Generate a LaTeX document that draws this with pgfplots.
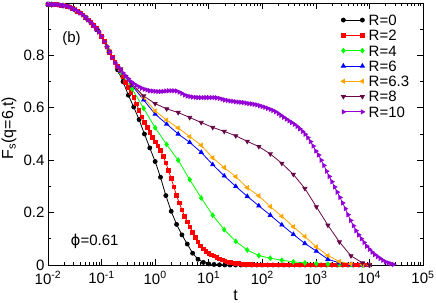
\documentclass[border=0pt]{standalone}
\usepackage{fontspec}
\setmainfont{Liberation Sans}
\newfontfamily\djv{DejaVu Sans}
\usepackage{pgfplots}
\usepackage{pgfplotstable}
\pgfplotsset{compat=1.18}
\definecolor{gmaroon}{RGB}{103,7,72}
\definecolor{gviolet}{RGB}{148,0,211}
\definecolor{gorange}{RGB}{255,165,0}
\definecolor{ggreen}{RGB}{0,255,0}
\definecolor{gred}{RGB}{255,0,0}
\definecolor{gblue}{RGB}{0,0,255}

\pgfplotstableread{
t F
1e-2 0.995
1.259e-2 0.994
1.585e-2 0.993
1.995e-2 0.990
2.512e-2 0.985
3.162e-2 0.975
3.981e-2 0.962
5.012e-2 0.945
6.310e-2 0.925
7.943e-2 0.903
1e-1 0.873
1.259e-1 0.833
1.585e-1 0.792
1.995e-1 0.745
2.512e-1 0.700
3.162e-1 0.648
3.981e-1 0.603
5.012e-1 0.555
6.310e-1 0.500
7.943e-1 0.447
1 0.395
1.259 0.335
1.585 0.265
1.995 0.205
2.512 0.155
3.162 0.115
3.981 0.080
5.012 0.045
6.310 0.022
7.943 0.010
10 0.004
12.59 0.002
15.85 0.001
19.95 0
25.12 0
31.62 0
39.81 0
50.12 0
63.10 0
79.43 0
100 0
125.9 0
158.5 0
199.5 0
251.2 0
316.2 0
398.1 0
501.2 0
631.0 0
794.3 0
1000 0
1259 0
1585 0
1995 0
2512 0
3162 0
3981 0
5012 0
6310 0
7943 0
10000 0
}\Rzero

\pgfplotstableread{
t F
1.000e-2 0.995
1.122e-2 0.995
1.259e-2 0.994
1.413e-2 0.994
1.585e-2 0.993
1.778e-2 0.991
1.995e-2 0.990
2.239e-2 0.988
2.512e-2 0.985
2.818e-2 0.980
3.162e-2 0.975
3.548e-2 0.969
3.981e-2 0.962
4.467e-2 0.954
5.012e-2 0.945
5.623e-2 0.935
6.310e-2 0.925
7.079e-2 0.914
7.943e-2 0.903
8.913e-2 0.889
1.000e-1 0.873
1.122e-1 0.853
1.259e-1 0.833
1.413e-1 0.812
1.585e-1 0.792
1.778e-1 0.775
1.995e-1 0.757
2.239e-1 0.738
2.512e-1 0.718
2.818e-1 0.698
3.162e-1 0.678
3.548e-1 0.658
3.981e-1 0.640
4.467e-1 0.615
5.012e-1 0.590
5.623e-1 0.566
6.310e-1 0.545
7.079e-1 0.525
7.943e-1 0.505
8.913e-1 0.486
1 0.470
1.122 0.455
1.259 0.438
1.413 0.415
1.585 0.390
1.778 0.360
1.995 0.330
2.239 0.298
2.512 0.265
2.818 0.237
3.162 0.210
3.548 0.186
3.981 0.165
4.467 0.145
5.012 0.125
5.623 0.105
6.310 0.088
7.079 0.073
7.943 0.062
8.913 0.052
10 0.045
11.22 0.039
12.59 0.034
14.13 0.029
15.85 0.024
17.78 0.019
19.95 0.015
22.39 0.012
25.12 0.010
28.18 0.008
31.62 0.006
35.48 0.005
39.81 0.004
44.67 0.003
50.12 0.003
56.23 0.002
63.10 0.002
70.79 0.001
79.43 0.001
89.13 0.001
100 0
112.2 0
125.9 0
141.3 0
158.5 0
177.8 0
199.5 0
223.9 0
251.2 0
281.8 0
316.2 0
354.8 0
398.1 0
446.7 0
501.2 0
562.3 0
631.0 0
707.9 0
794.3 0
891.3 0
1000 0
1122 0
1259 0
1413 0
1585 0
1778 0
1995 0
2239 0
2512 0
2818 0
3162 0
3548 0
3981 0
4467 0
5012 0
5623 0
6310 0
7079 0
7943 0
8913 0
10000 0
}\Rtwo

\pgfplotstableread{
t F
0.01 0.995
0.011614 0.994
0.019055 0.990
0.031261 0.975
0.051286 0.943
0.08414 0.896
0.13804 0.816
0.22646 0.735
0.37154 0.672
0.60954 0.598
1 0.524
1.6406 0.460
2.6915 0.400
4.4157 0.326
7.2444 0.256
11.885 0.190
19.498 0.135
31.989 0.090
52.481 0.057
86.099 0.036
141.25 0.026
231.74 0.018
380.19 0.012
623.73 0.008
1023.3 0.005
1678.8 0.003
2754.2 0.002
4518.6 0.001
7413.1 0
10000 0
}\Rfour

\pgfplotstableread{
t F
0.01 0.995
0.011614 0.994
0.019055 0.990
0.031261 0.975
0.051286 0.943
0.08414 0.896
0.13804 0.816
0.22646 0.740
0.37154 0.685
0.60954 0.630
1 0.576
1.6406 0.538
2.6915 0.500
4.4157 0.468
7.2444 0.430
11.885 0.383
19.498 0.340
31.989 0.300
52.481 0.262
86.099 0.226
141.25 0.190
231.74 0.153
380.19 0.117
623.73 0.082
1023.3 0.053
1678.8 0.022
2754.2 0.008
4518.6 0.002
7413.1 0
10000 0
}\Rsix

\pgfplotstableread{
t F
0.01 0.995
0.011614 0.994
0.019055 0.990
0.031261 0.975
0.051286 0.943
0.08414 0.896
0.13804 0.816
0.22646 0.742
0.37154 0.690
0.60954 0.640
1 0.588
1.6406 0.553
2.6915 0.523
4.4157 0.490
7.2444 0.457
11.885 0.409
19.498 0.372
31.989 0.337
52.481 0.295
86.099 0.264
141.25 0.223
231.74 0.186
380.19 0.146
623.73 0.109
1023.3 0.069
1678.8 0.036
2754.2 0.013
4518.6 0.004
7413.1 0.001
10000 0
}\Rsixthree

\pgfplotstableread{
t F
0.01 0.995
0.011614 0.994
0.019055 0.990
0.031261 0.975
0.051286 0.943
0.08414 0.896
0.13804 0.816
0.22646 0.748
0.37154 0.690
0.60954 0.645
1 0.616
1.6406 0.596
2.6915 0.582
4.4157 0.563
7.2444 0.544
11.885 0.525
19.498 0.510
31.989 0.493
52.481 0.472
86.099 0.452
141.25 0.424
231.74 0.388
380.19 0.346
623.73 0.292
1023.3 0.222
1678.8 0.152
2754.2 0.088
4518.6 0.035
7413.1 0.008
10000 0
}\Reight

\pgfplotstableread{
t F
1.000e-2 0.995
1.122e-2 0.995
1.259e-2 0.994
1.413e-2 0.994
1.585e-2 0.993
1.778e-2 0.991
1.995e-2 0.990
2.239e-2 0.988
2.512e-2 0.985
2.818e-2 0.980
3.162e-2 0.975
3.548e-2 0.969
3.981e-2 0.962
4.467e-2 0.954
5.012e-2 0.945
5.623e-2 0.935
6.310e-2 0.925
7.079e-2 0.914
7.943e-2 0.903
8.913e-2 0.889
1.000e-1 0.873
1.122e-1 0.853
1.259e-1 0.833
1.413e-1 0.812
1.585e-1 0.792
1.778e-1 0.772
1.995e-1 0.757
2.239e-1 0.745
2.512e-1 0.733
2.818e-1 0.722
3.162e-1 0.711
3.548e-1 0.700
3.981e-1 0.692
4.467e-1 0.685
5.012e-1 0.680
5.623e-1 0.675
6.310e-1 0.671
7.079e-1 0.668
7.943e-1 0.665
8.913e-1 0.664
1 0.663
1.122 0.662
1.259 0.662
1.413 0.663
1.585 0.664
1.778 0.665
1.995 0.665
2.239 0.665
2.512 0.664
2.818 0.660
3.162 0.655
3.548 0.649
3.981 0.645
4.467 0.643
5.012 0.641
5.623 0.640
6.310 0.639
7.079 0.639
7.943 0.639
8.913 0.639
10 0.639
11.22 0.639
12.59 0.639
14.13 0.638
15.85 0.636
17.78 0.633
19.95 0.630
22.39 0.628
25.12 0.626
28.18 0.625
31.62 0.623
35.48 0.622
39.81 0.621
44.67 0.620
50.12 0.618
56.23 0.616
63.10 0.615
70.79 0.613
79.43 0.611
89.13 0.608
100 0.605
112.2 0.602
125.9 0.598
141.3 0.594
158.5 0.590
177.8 0.585
199.5 0.578
223.9 0.571
251.2 0.564
281.8 0.557
316.2 0.550
354.8 0.544
398.1 0.537
446.7 0.529
501.2 0.520
562.3 0.510
631.0 0.499
707.9 0.486
794.3 0.471
891.3 0.454
1000 0.435
1122 0.420
1259 0.400
1413 0.380
1585 0.358
1778 0.338
1995 0.318
2239 0.298
2512 0.278
2818 0.258
3162 0.237
3548 0.215
3981 0.192
4467 0.170
5012 0.150
5623 0.131
6310 0.115
7079 0.100
7943 0.086
8913 0.072
10000 0.060
11220 0.049
12590 0.040
14130 0.032
15850 0.025
17780 0.018
19950 0.012
22390 0.008
25120 0.005
28180 0.002
}\Rten

\begin{document}
\begin{tikzpicture}
\useasboundingbox (-48bp,-38bp) rectangle (388bp,265bp);
\begin{axis}[
  at={(0,0)}, anchor=south west,
  scale only axis, width=375bp, height=262bp,
  xmode=log, log basis x=10,
  xmin=1e-2, xmax=1e5, ymin=0, ymax=1,
  axis line style={line width=0.8bp},
  xtick={1e-2,1e-1,1,10,100,1000,10000,100000},
  xticklabels={10\textsuperscript{-2},10\textsuperscript{-1},10\textsuperscript{0},10\textsuperscript{1},10\textsuperscript{2},10\textsuperscript{3},10\textsuperscript{4},10\textsuperscript{5}},
  minor xtick={0.02,0.03,0.04,0.05,0.06,0.07,0.08,0.09,
    0.2,0.3,0.4,0.5,0.6,0.7,0.8,0.9,
    2,3,4,5,6,7,8,9,
    20,30,40,50,60,70,80,90,
    200,300,400,500,600,700,800,900,
    2000,3000,4000,5000,6000,7000,8000,9000,
    20000,30000,40000,50000,60000,70000,80000,90000},
  ytick={0,0.2,0.4,0.6,0.8},
  yticklabels={0,0.2,0.4,0.6,0.8},
  minor ytick={0.1,0.3,0.5,0.7,0.9},
  tick align=inside,
  major tick length=6bp, minor tick length=3bp,
  tick style={line width=0.6bp, black},
  ticklabel style={font=\fontsize{15bp}{18bp}\selectfont},
  xticklabel style={yshift=-3bp},
  xlabel={t},
  xlabel style={font=\fontsize{16bp}{19bp}\selectfont, at={(axis description cs:0.5,-0.137)}, anchor=base},
  ylabel={F\textsubscript{s}(q=6,t)},
  ylabel style={font=\fontsize{16bp}{19bp}\selectfont, at={(axis description cs:-0.104,0.523)}, anchor=center},
  every axis plot/.append style={line width=0.8bp},
  mark size=2bp,
  legend image code/.code={\draw[#1] plot coordinates {(0bp,0bp) (19bp,0bp)};},
  legend cell align=left,
  legend style={at={(axis description cs:0.781,0.956)}, anchor=north west,
    draw=none, fill=none, inner sep=0pt, row sep=4.6bp, column sep=4bp,
    font=\fontsize{15bp}{18bp}\selectfont,
    nodes={inner sep=0pt, text height=10.7bp, text depth=0pt}},
]
\addplot[black, mark=*, mark options={solid, fill=black}] table {\Rzero};
\addlegendentry{R=0}
\addplot[gred, mark=square*, mark size=1.8bp, mark options={solid, fill=gred}] table {\Rtwo};
\addlegendentry{R=2}
\addplot[ggreen, mark=diamond*, mark size=2.3bp, mark options={solid, fill=ggreen}] table {\Rfour};
\addlegendentry{R=4}
\addplot[gblue, mark=triangle*, mark size=2.3bp, mark options={solid, fill=gblue}] table {\Rsix};
\addlegendentry{R=6}
\addplot[gorange, mark=triangle*, mark size=2.3bp, mark options={solid, fill=gorange, rotate=90}] table {\Rsixthree};
\addlegendentry{R=6.3}
\addplot[gmaroon, mark=triangle*, mark size=2.3bp, mark options={solid, fill=gmaroon, rotate=180}] table {\Reight};
\addlegendentry{R=8}
\addplot[gviolet, mark=triangle*, mark size=2.3bp, mark options={solid, fill=gviolet, rotate=-90}] table {\Rten};
\addlegendentry{R=10}
\node[anchor=base west, font=\fontsize{15bp}{18bp}\selectfont] at (axis description cs:0.029,0.851) {(b)};
\node[anchor=base west, font=\fontsize{15bp}{18bp}\selectfont] at (axis description cs:0.051,0.076) {{\djv ϕ}=0.61};
\end{axis}
\end{tikzpicture}
\end{document}
